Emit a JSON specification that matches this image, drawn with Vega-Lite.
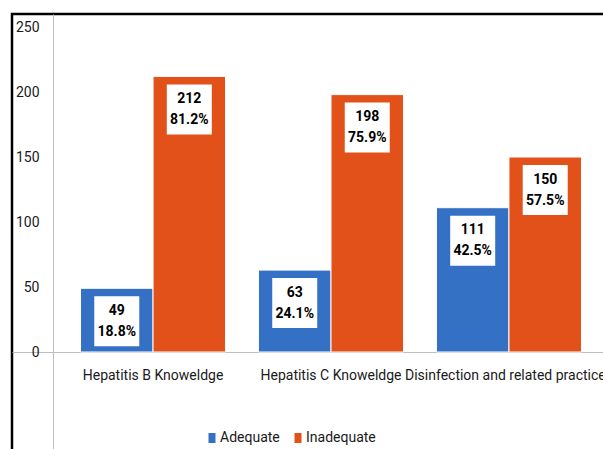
{
  "$schema": "https://vega.github.io/schema/vega-lite/v6.json",
  "autosize": {"type": "none"},
  "padding": {"left": 12, "top": 14, "right": 0, "bottom": 0},
  "width": 638,
  "height": 450,
  "background": "white",
  "config": {
    "view": {"stroke": "#000000", "strokeWidth": 2.5},
    "font": "Roboto"
  },
  "data": {
    "values": [
      {"cat": "Hepatitis B Knoweldge", "status": "Adequate", "n": 49, "label": ["49", "18.8%"]},
      {"cat": "Hepatitis B Knoweldge", "status": "Inadequate", "n": 212, "label": ["212", "81.2%"]},
      {"cat": "Hepatitis C Knoweldge", "status": "Adequate", "n": 63, "label": ["63", "24.1%"]},
      {"cat": "Hepatitis C Knoweldge", "status": "Inadequate", "n": 198, "label": ["198", "75.9%"]},
      {"cat": "Disinfection and related practices", "status": "Adequate", "n": 111, "label": ["111", "42.5%"]},
      {"cat": "Disinfection and related practices", "status": "Inadequate", "n": 150, "label": ["150", "57.5%"]}
    ]
  },
  "encoding": {
    "x": {
      "field": "cat",
      "type": "nominal",
      "sort": null,
      "scale": {"paddingInner": 0.185, "paddingOuter": 0.385},
      "axis": {
        "orient": "bottom",
        "offset": -112,
        "title": null,
        "labelAngle": 0,
        "labelPadding": 16,
        "ticks": false,
        "tickSize": 0,
        "domainColor": "#bfbfbf",
        "domainWidth": 1,
        "labelFont": "Roboto",
        "labelFontSize": 14,
        "labelColor": "#1a1a1a",
        "labelLimit": 0
      }
    },
    "xOffset": {
      "field": "status",
      "type": "nominal",
      "scale": {"domain": ["Adequate", "Inadequate"], "paddingInner": 0, "paddingOuter": 0}
    },
    "y": {
      "field": "n",
      "type": "quantitative",
      "scale": {"domain": [-86.15, 260], "nice": false, "zero": false},
      "axis": {
        "values": [0, 50, 100, 150, 200, 250],
        "offset": -41,
        "title": null,
        "grid": false,
        "ticks": false,
        "tickSize": 0,
        "labelPadding": 14,
        "domainColor": "#bfbfbf",
        "domainWidth": 1,
        "labelFont": "Roboto",
        "labelFontSize": 14,
        "labelColor": "#1a1a1a"
      }
    }
  },
  "layer": [
    {
      "mark": {"type": "bar", "stroke": "white", "strokeWidth": 1},
      "encoding": {
        "y2": {"datum": 0},
        "color": {
          "field": "status",
          "type": "nominal",
          "scale": {"domain": ["Adequate", "Inadequate"], "range": ["#3470c4", "#e3511a"]},
          "legend": {
            "title": null,
            "orient": "none",
            "direction": "horizontal",
            "legendX": 193,
            "legendY": 417,
            "symbolType": "M-0.7,-1H0.7V1H-0.7Z",
            "symbolSize": 100,
            "symbolStrokeWidth": 0,
            "labelFont": "Roboto",
            "labelFontSize": 14,
            "labelColor": "#1a1a1a",
            "labelOffset": 1,
            "columnPadding": 11
          }
        }
      }
    },
    {
      "mark": {
        "type": "point",
        "shape": "M-0.9,-1H0.9V1H-0.9Z",
        "size": 2500,
        "filled": true,
        "color": "white",
        "opacity": 1,
        "yOffset": 33
      }
    },
    {
      "mark": {
        "type": "text",
        "dy": 22.5,
        "align": "center",
        "baseline": "middle",
        "font": "Roboto",
        "fontSize": 14,
        "fontWeight": "bold",
        "lineHeight": 21,
        "color": "#000000"
      },
      "encoding": {"text": {"field": "label"}}
    }
  ]
}
